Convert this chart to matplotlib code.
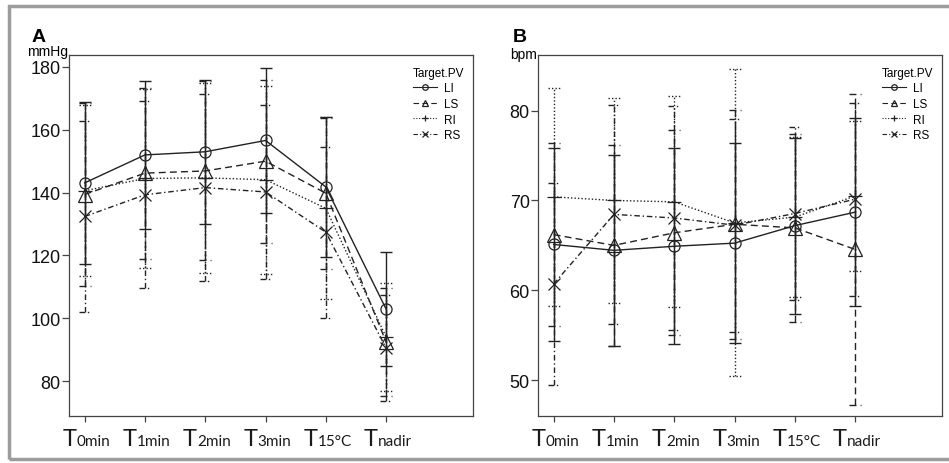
import matplotlib.pyplot as plt
import matplotlib.patches as patches
import numpy as np

# временные точки
time_labels = ['0min', '1min', '2min', '3min', '15°C', 'nadir']
groups = ['LI', 'LS', 'RI', 'RS']

# A: давление, mmHg (среднее и SD)
bp_li = [143.1, 152.0, 153.0, 156.6, 141.8, 102.9]
bp_li_sd = [25.8, 23.5, 23.0, 23.0, 22.2, 18.2]
bp_ls = [139.4, 146.2, 146.9, 150.0, 139.8, 92.4]
bp_ls_sd = [29.0, 27.2, 28.5, 25.9, 24.0, 17.1]
bp_ri = [140.6, 144.5, 144.7, 144.1, 135.0, 94.0]
bp_ri_sd = [27.2, 28.5, 30.2, 29.9, 29.0, 17.1]
bp_rs = [132.4, 139.3, 141.6, 140.2, 127.4, 90.5]
bp_rs_sd = [30.5, 29.8, 29.8, 27.8, 27.2, 16.8]

# B: пульс, bpm
hr_li = [65.1, 64.45, 64.9, 65.25, 67.2, 68.7]
hr_li_sd = [10.7, 10.65, 10.9, 11.15, 9.8, 10.5]
hr_ls = [66.2, 65.0, 66.4, 67.35, 66.95, 64.55]
hr_ls_sd = [10.2, 11.2, 11.4, 12.75, 10.45, 17.35]
hr_ri = [70.4, 70.0, 69.85, 67.5, 68.15, 70.5]
hr_ri_sd = [12.1, 11.4, 11.75, 17.1, 8.9, 8.4]
hr_rs = [60.7, 68.45, 68.05, 67.25, 68.55, 70.15]
hr_rs_sd = [11.3, 12.15, 12.45, 11.85, 9.65, 10.75]

# стиль каждой группы
styles = {
    'LI': dict(ls='-', marker='o', ms=8),
    'LS': dict(ls=(0, (5, 3)), marker='^', ms=10),
    'RI': dict(ls=(0, (1, 1.5)), marker='+', ms=10),
    'RS': dict(ls=(0, (4, 2, 1, 2)), marker='x', ms=8),
}
line_color = '#222222'

plt.rcParams['font.family'] = ['Liberation Sans', 'DejaVu Sans']

fig = plt.figure(figsize=(9.49, 4.64), dpi=100)
ax_a = fig.add_axes([0.0727, 0.1013, 0.4257, 0.778])
ax_b = fig.add_axes([0.5669, 0.1013, 0.4257, 0.778])


def draw_panel(ax, series, ylim, yticks):
    x = np.arange(len(time_labels))
    cap = 0.1
    for g in ['RS', 'RI', 'LS', 'LI']:
        mean, sd = series[g]
        mean = np.array(mean)
        sd = np.array(sd)
        st = styles[g]
        lo = mean - sd
        hi = mean + sd
        ax.vlines(x, lo, hi, colors=line_color, linestyles=[st['ls']], lw=1.0)
        ax.hlines(lo, x - cap, x + cap, colors=line_color, linestyles=[st['ls']], lw=1.0)
        ax.hlines(hi, x - cap, x + cap, colors=line_color, linestyles=[st['ls']], lw=1.0)
        ax.plot(x, mean, color=line_color, ls=st['ls'], lw=1.0,
                marker=st['marker'], ms=st['ms'], mfc='none', mec=line_color,
                mew=0.9, label=g)

    ax.set_xlim(-0.26, 6.44)
    ax.set_ylim(*ylim)
    ax.set_yticks(yticks)
    ax.set_xticks(x)
    ax.set_xticklabels([])
    ax.tick_params(axis='y', length=5, width=0.9, color='#444444',
                   labelsize=13, pad=1, labelcolor='#111111')
    ax.tick_params(axis='x', length=4.5, width=0.9, color='#444444')
    for s in ax.spines.values():
        s.set_color('#444444')
        s.set_linewidth(0.9)

    # подписи оси X: большая T и мелкий индекс
    for i, lab in enumerate(time_labels):
        t1 = ax.annotate('T', xy=(i, 0), xycoords=('data', 'axes fraction'),
                         xytext=(-16, -8.5), textcoords='offset points',
                         ha='left', va='top', fontsize=17, family='Lato',
                         color='#1a1a1a')
        ax.annotate(lab, xy=(1, 0), xycoords=t1, xytext=(0.3, 0.9),
                    textcoords='offset points', ha='left', va='bottom',
                    fontsize=11, family='Lato', color='#1a1a1a')

    # легенда
    handles, labels = ax.get_legend_handles_labels()
    order = [labels.index(g) for g in groups]
    leg = ax.legend([handles[k] for k in order], [labels[k] for k in order],
                    title='Target.PV', loc='upper right',
                    bbox_to_anchor=(1.0, 0.99), frameon=False, fontsize=8.5,
                    title_fontsize=8.5, markerscale=0.5, handlelength=2.0,
                    handletextpad=0.6, labelspacing=0.3, borderpad=0.2,
                    alignment='left')
    for h in leg.legend_handles:
        h.set_linewidth(0.8)


draw_panel(ax_a, {'LI': (bp_li, bp_li_sd), 'LS': (bp_ls, bp_ls_sd),
                  'RI': (bp_ri, bp_ri_sd), 'RS': (bp_rs, bp_rs_sd)},
           (68.9, 183.8), [80, 100, 120, 140, 160, 180])
draw_panel(ax_b, {'LI': (hr_li, hr_li_sd), 'LS': (hr_ls, hr_ls_sd),
                  'RI': (hr_ri, hr_ri_sd), 'RS': (hr_rs, hr_rs_sd)},
           (46.0, 86.2), [50, 60, 70, 80])

# буквы панелей и единицы
fig.text(32 / 949, 1 - 42 / 464, 'A', fontsize=14, fontweight='bold', va='baseline')
fig.text(513 / 949, 1 - 42 / 464, 'B', fontsize=14, fontweight='bold', va='baseline')
fig.text(68 / 949, 1 - 56 / 464, 'mmHg', fontsize=10, ha='right', va='baseline')
fig.text(537 / 949, 1 - 59 / 464, 'bpm', fontsize=10, ha='right', va='baseline')

# серая рамка вокруг рисунка
frame = patches.Rectangle((9 / 949, 4 / 464), 1.0, 453 / 464,
                          transform=fig.transFigure, fill=False,
                          edgecolor='#9c9c9c', lw=2.5, clip_on=False)
fig.patches.append(frame)

fig.savefig('out.png', dpi=100)
